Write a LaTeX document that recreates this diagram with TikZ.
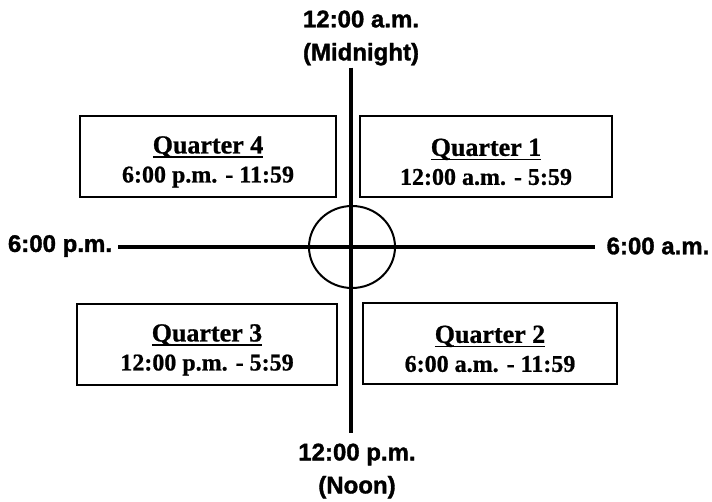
\documentclass[tikz,border=0pt]{standalone}
\usepackage{fontspec}
\setmainfont{Liberation Serif}[BoldFeatures={FakeBold=0.8}]
\newfontfamily\lblfont{Liberation Sans}[BoldFeatures={FakeBold=1.4}]
\newsavebox\qtbox
\newcommand\qtitle[1]{\rule{0pt}{28pt}\sbox\qtbox{\fontsize{26}{29}\selectfont#1}\rlap{\rule[-4.5pt]{\wd\qtbox}{1.8pt}}\usebox\qtbox}
\usetikzlibrary{positioning}

\begin{document}
\begin{tikzpicture}[x=1pt,y=-1pt,
  lbl/.style={font=\lblfont\bfseries\fontsize{24}{28}\selectfont,align=center,inner sep=2pt},
  qbox/.style={draw,line width=2pt,minimum height=81pt,align=center,inner sep=0pt,
    font=\bfseries\fontsize{24}{29}\selectfont}]
\useasboundingbox (0,0) rectangle (712,502);
\node[lbl] (midnight) at (361,38) {12:00 a.m.\\[5pt](Midnight)};
\node[lbl] (noon) at (357,471) {12:00 p.m.\\[5pt](Noon)};
\node[lbl] (pm) at (60,246) {6:00 p.m.};
\node[lbl] (am) at (658,246) {6:00 a.m.};
\node[qbox,minimum width=256pt] (q4) at (208,156.5) {\qtitle{Quarter 4}\\6:00 p.m. - 11:59};
\node[qbox,minimum width=252pt] (q1) at (486,156.5) {\qtitle{Quarter 1}\\12:00 a.m. - 5:59};
\node[qbox,minimum width=260pt] (q3) at (207,344.5) {\qtitle{Quarter 3}\\12:00 p.m. - 5:59};
\node[qbox,minimum width=254pt] (q2) at (490,343.5) {\qtitle{Quarter 2}\\6:00 a.m. - 11:59};
\coordinate (hub) at (352,247);
\path (pm.east) ++(4,1) coordinate (w) (am.west) ++(-9,1) coordinate (e);
\draw[line width=4pt] (w) -- (e);
\path (midnight.south) ++(-10,0) coordinate (n) (noon.north) ++(-6,-8) coordinate (s);
\draw[line width=4pt] (n) -- (s);
\draw[line width=2pt] (hub) ellipse[x radius=43,y radius=41];
\end{tikzpicture}
\end{document}
